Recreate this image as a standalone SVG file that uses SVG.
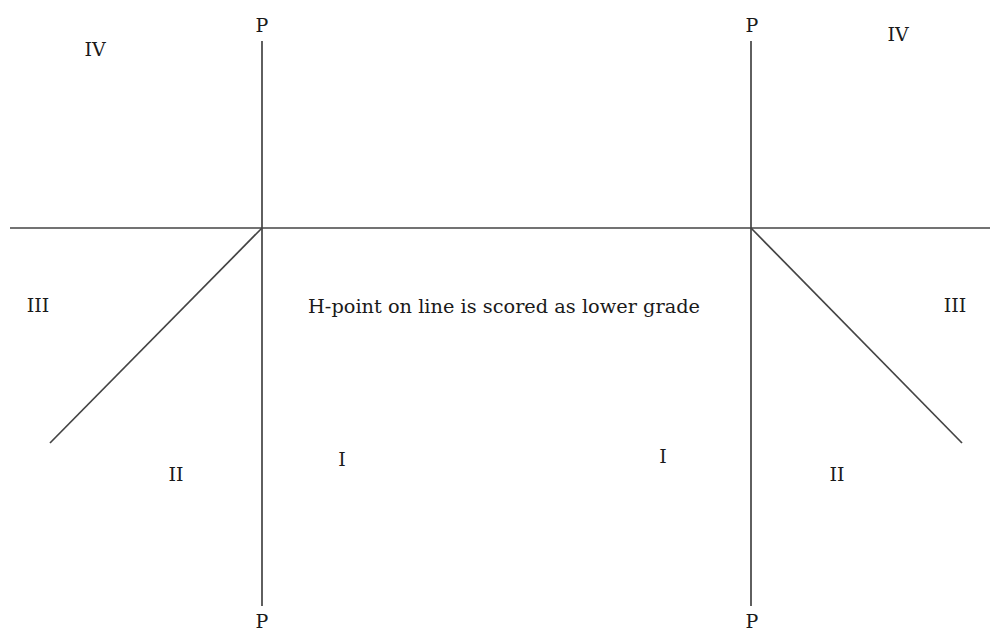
<svg xmlns="http://www.w3.org/2000/svg" width="990" height="634" viewBox="0 0 990 634">
<style>
.ln{stroke:#444;stroke-width:1.7;fill:none}
text{font-family:"DejaVu Serif","Liberation Serif",serif;font-size:19px;fill:#1a1a1a;text-anchor:middle}
</style>
<rect width="990" height="634" fill="#fff"/>
<g id="connectors">
<line class="ln" x1="10" y1="228" x2="990" y2="228"/>
<line class="ln" x1="262" y1="41" x2="262" y2="606"/>
<line class="ln" x1="751" y1="41" x2="751" y2="606"/>
<line class="ln" x1="262" y1="228" x2="50" y2="443"/>
<line class="ln" x1="751" y1="228" x2="962" y2="443"/>
</g>
<g id="labels">
<text x="262" y="32">P</text>
<text x="752" y="32">P</text>
<text x="262" y="628">P</text>
<text x="752" y="628">P</text>
<text x="95" y="56">IV</text>
<text x="898" y="41">IV</text>
<text x="38" y="312">III</text>
<text x="955" y="312">III</text>
<text x="176" y="481">II</text>
<text x="837" y="481">II</text>
<text x="342" y="466">I</text>
<text x="663" y="463">I</text>
<text x="504" y="313" textLength="392" lengthAdjust="spacingAndGlyphs">H-point on line is scored as lower grade</text>
</g>
</svg>
